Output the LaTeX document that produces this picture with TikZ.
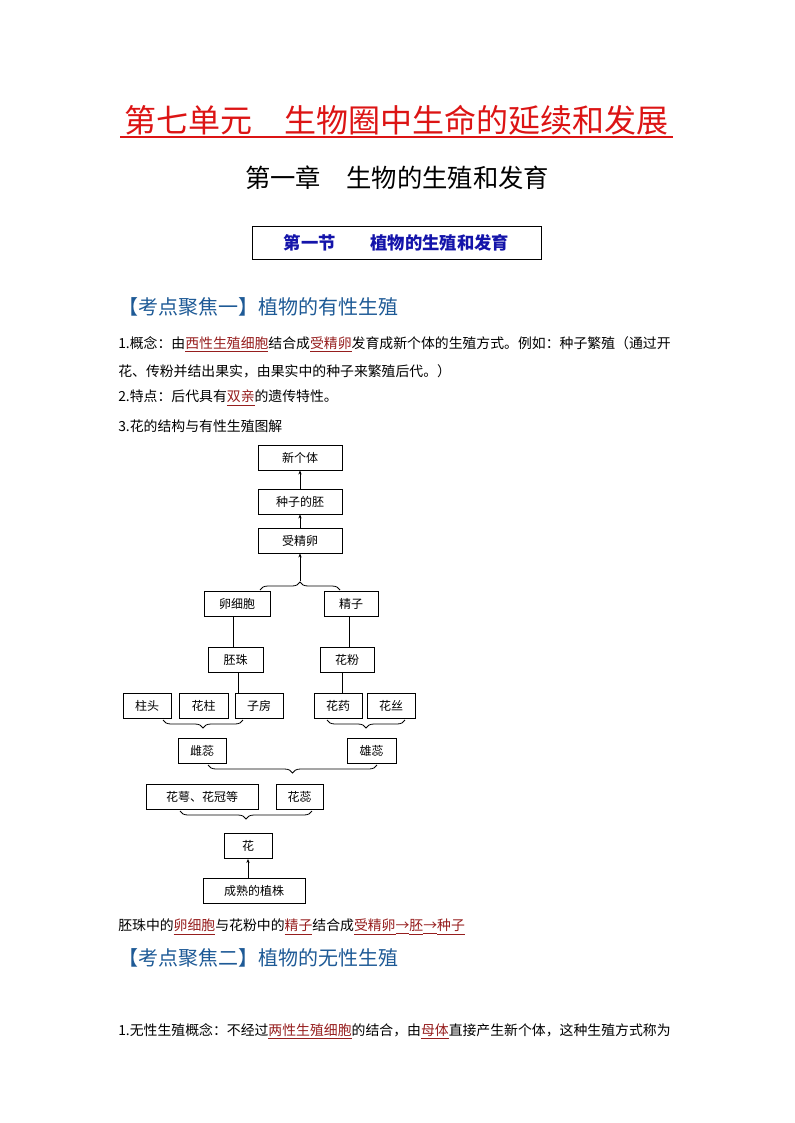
\documentclass[tikz,border=0pt]{standalone}
\usepackage{fontspec}
\setmainfont{Noto Sans CJK SC}
\usetikzlibrary{decorations.pathreplacing,arrows.meta}
\definecolor{ttlred}{RGB}{220,20,20}
\definecolor{hblue}{RGB}{30,90,150}
\definecolor{sblue}{RGB}{20,20,170}
\definecolor{ulred}{RGB}{150,30,30}
\newcommand{\ulw}[1]{\textcolor{ulred}{\underline{#1}}}
\begin{document}
\begin{tikzpicture}[x=0.75pt,y=-0.75pt,
  bx/.style={draw,line width=0.7pt,minimum height=18.75pt,inner sep=0pt,font=\fontsize{9}{9}\selectfont},
  txt/.style={anchor=west,inner sep=0pt,font=\fontsize{10.4}{12}\selectfont},
  arr/.style={-{Stealth[length=3pt,width=2.5pt]},line width=0.6pt},
  ln/.style={line width=0.6pt},
  br/.style={decorate,decoration={brace,amplitude=6pt},line width=0.6pt},
  brm/.style={decorate,decoration={brace,amplitude=6pt,mirror},line width=0.6pt}]
\useasboundingbox (0,0) rectangle (794,1123);
% titles
\node[inner sep=0pt,text=ttlred,font=\fontsize{24}{24}\selectfont] (t1) at (396,120) {第七单元\hspace{1em}生物圈中生命的延续和发展};
\draw[ttlred,line width=1.2pt] (120,137) -- (673,137);
\node[inner sep=0pt,font=\fontsize{19}{19}\selectfont] (t2) at (397,178) {第一章\hspace{1em}生物的生殖和发育};
\node[draw,line width=0.7pt,minimum width=216.75pt,minimum height=24.75pt,inner sep=0pt,text=sblue,font=\bfseries\itshape\fontsize{13}{13}\selectfont] (t3) at (396.5,242.5) {第一节\hspace{2em}植物的生殖和发育};
\node[txt,text=hblue,font=\fontsize{15}{15}\selectfont] (h1) at (118,307) {【考点聚焦一】植物的有性生殖};
\node[txt] (p1) at (118,344) {1.概念：由\ulw{西性生殖细胞}结合成\ulw{受精卵}发育成新个体的生殖方式。例如：种子繁殖（通过开};
\node[txt] (p2) at (118,371) {花、传粉并结出果实，由果实中的种子来繁殖后代。）};
\node[txt] (p3) at (118,398) {2.特点：后代具有\ulw{双亲}的遗传特性。};
\node[txt] (p4) at (118,426) {3.花的结构与有性生殖图解};
% boxes
\node[bx,minimum width=63pt] (xgt) at (300,457.5) {新个体};
\node[bx,minimum width=63pt] (zzp) at (300,501.5) {种子的胚};
\node[bx,minimum width=63pt] (sjl) at (300,540.5) {受精卵};
\node[bx,minimum width=49.5pt] (lxb) at (237,603.5) {卵细胞};
\node[bx,minimum width=40.5pt] (jz) at (351,603.5) {精子};
\node[bx,minimum width=41.25pt] (pz) at (235.5,659.5) {胚珠};
\node[bx,minimum width=40.5pt] (hf) at (347,659.5) {花粉};
\node[bx,minimum width=36pt] (zt) at (147,706) {柱头};
\node[bx,minimum width=36.75pt] (hz) at (203.5,706) {花柱};
\node[bx,minimum width=36pt] (zf) at (259,706) {子房};
\node[bx,minimum width=36pt] (hy) at (338,706) {花药};
\node[bx,minimum width=36pt] (hs) at (391,706) {花丝};
\node[bx,minimum width=36pt] (cr) at (202,750.5) {雌蕊};
\node[bx,minimum width=36.75pt] (xr) at (371.5,750.5) {雄蕊};
\node[bx,minimum width=84pt] (he) at (202,796.5) {花萼、花冠等};
\node[bx,minimum width=35.25pt] (hr) at (299.5,796.5) {花蕊};
\node[bx,minimum width=36pt] (hua) at (248,846) {花};
\node[bx,minimum width=76.5pt] (csz) at (254,891) {成熟的植株};
% connectors
\draw[arr] (zzp.north) -- (xgt.south);
\draw[arr] (sjl.north) -- (zzp.south);
\coordinate (b1a) at (260,590); \coordinate (b1b) at (340,590); \coordinate (b1t) at (300,581);
\draw[br] (b1a) -- (b1b);
\draw[arr] (b1t) -- (sjl.south);
\coordinate (l1) at (233,0); \coordinate (l2) at (349,0);
\coordinate (l3) at (238,0); \coordinate (l4) at (342,0);
\draw[ln] (l1|-lxb.south) -- (l1|-pz.north);
\draw[ln] (l2|-jz.south) -- (l2|-hf.north);
\draw[ln] (l3|-pz.south) -- (l3|-zf.north);
\draw[ln] (l4|-hf.south) -- (l4|-hy.north);
\coordinate (b2a) at (163,720); \coordinate (b2b) at (243,720);
\draw[brm] (b2a) -- (b2b);
\coordinate (b3a) at (327,720); \coordinate (b3b) at (405,720);
\draw[brm] (b3a) -- (b3b);
\coordinate (b4a) at (208,765); \coordinate (b4b) at (377,765);
\draw[brm] (b4a) -- (b4b);
\coordinate (b5a) at (180,811); \coordinate (b5b) at (312,811);
\draw[brm] (b5a) -- (b5b);
\draw[arr] (csz.north -| hua.south) -- (hua.south);
% bottom text
\node[txt] (p5) at (118,927) {胚珠中的\ulw{卵细胞}与花粉中的\ulw{精子}结合成\ulw{受精卵}\ulw{→}\ulw{胚}\ulw{→}\ulw{种子}};
\node[txt,text=hblue,font=\fontsize{15}{15}\selectfont] (h2) at (118,958) {【考点聚焦二】植物的无性生殖};
\node[txt] (p6) at (118,1031) {1.无性生殖概念：不经过\ulw{两性生殖细胞}的结合，由\ulw{母体}直接产生新个体，这种生殖方式称为};
\end{tikzpicture}
\end{document}
